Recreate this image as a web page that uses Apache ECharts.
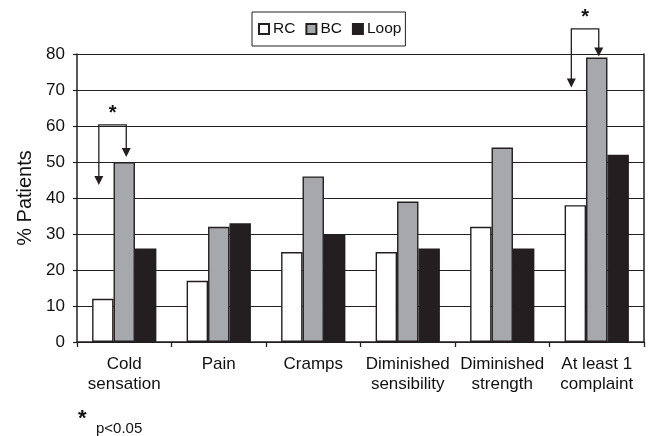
<!DOCTYPE html>
<html>
<head>
<meta charset="utf-8">
<script src="https://cdn.jsdelivr.net/npm/echarts@6/dist/echarts.min.js"></script>
<style>
  html, body { margin: 0; padding: 0; background: #fff; }
  #chart { width: 648px; height: 436px; }
</style>
</head>
<body>
<div id="chart"></div>
<script>
// categories and values
const categories = ['Cold\nsensation', 'Pain', 'Cramps', 'Diminished\nsensibility', 'Diminished\nstrength', 'At least 1\ncomplaint']
const rcValues = [12, 17, 25, 25, 32, 38]
const bcValues = [50, 32, 46, 39, 54, 79]
const loopValues = [26, 33, 30, 26, 26, 52]
const yTicks = [0, 10, 20, 30, 40, 50, 60, 70, 80]

// significance brackets: category, bracket top, left arrow end, right arrow end (in % units)
const sigCats = [0, 5]
const sigTop = [60.3, 87]
const sigLeftEnd = [43.6, 70.7]
const sigRightEnd = [51.4, 79.3]

const ink = '#231f20'
const txt = '#111'
const font = 'Liberation Sans, Arial, sans-serif'
const catGap = 0.32

const chart = echarts.init(document.getElementById('chart'))

// draws the bracket with two arrows and the star
const renderSig = (params, api) => {
  const cat = api.value(0)
  const c = api.coord([cat, api.value(1)])
  const band = api.size([1, 0])[0]
  const barW = band * (1 - catGap) / 3
  const lx = c[0] - barW - 4
  const rx = c[0] + 2
  const ly = api.coord([cat, api.value(2)])[1]
  const ry = api.coord([cat, api.value(3)])[1]
  return {
    type: 'group',
    children: [
      {
        type: 'polyline',
        shape: { points: [[lx, ly - 8], [lx, c[1]], [rx, c[1]], [rx, ry - 8]] },
        style: { stroke: ink, lineWidth: 1.3, fill: null }
      },
      {
        type: 'polygon',
        shape: { points: [[lx - 4.5, ly - 9], [lx + 4.5, ly - 9], [lx, ly]] },
        style: { fill: ink }
      },
      {
        type: 'polygon',
        shape: { points: [[rx - 4.5, ry - 9], [rx + 4.5, ry - 9], [rx, ry]] },
        style: { fill: ink }
      },
      {
        type: 'text',
        style: {
          text: '*', x: (lx + rx) / 2, y: c[1] - 11,
          fill: txt, font: 'bold 20px ' + font, align: 'center', verticalAlign: 'middle'
        }
      }
    ]
  }
}

const barStyle = (color) => ({ color: color, borderColor: ink, borderWidth: 1.4 })

const option = {
  backgroundColor: '#fff',
  animation: false,
  textStyle: { fontFamily: font, color: txt },
  legend: {
    top: 12,
    left: 252,
    data: ['RC', 'BC', 'Loop'],
    icon: 'rect',
    itemWidth: 10,
    itemHeight: 10,
    itemGap: 10,
    padding: [9, 4, 9, 6],
    borderColor: ink,
    borderWidth: 1,
    textStyle: { fontSize: 15.5, color: txt, fontFamily: font, padding: [0, 0, 0, -1] }
  },
  grid: { left: 77, right: 4, top: 54, bottom: 94 },
  xAxis: {
    type: 'category',
    data: categories,
    axisLine: { lineStyle: { color: ink, width: 1.5 } },
    axisTick: { show: true, length: 5, lineStyle: { color: ink, width: 1.3 } },
    axisLabel: { interval: 0, fontSize: 17, color: txt, lineHeight: 20, margin: 12, fontFamily: font }
  },
  yAxis: [
    {
      type: 'value',
      min: 0,
      max: 80,
      interval: 10,
      name: '% Patients',
      nameLocation: 'middle',
      nameGap: 42,
      nameTextStyle: { fontSize: 20, color: txt, fontFamily: font },
      axisLine: { show: true, lineStyle: { color: ink, width: 1.5 } },
      axisTick: { show: true, length: 4, lineStyle: { color: ink, width: 1.2 } },
      axisLabel: { fontSize: 17, color: txt, margin: 12, fontFamily: font,
        formatter: (v) => (yTicks.includes(v) ? String(v) : '') },
      splitLine: { lineStyle: { color: ink, width: 1.2 } }
    },
    {
      type: 'value',
      min: 0,
      max: 80,
      interval: 10,
      position: 'right',
      axisLine: { show: true, lineStyle: { color: ink, width: 1.5 } },
      axisTick: { show: false },
      axisLabel: { show: false },
      splitLine: { show: false }
    }
  ],
  series: [
    { name: 'RC', type: 'bar', data: rcValues, barGap: '0%', barCategoryGap: (catGap * 100) + '%', itemStyle: barStyle('#ffffff') },
    { name: 'BC', type: 'bar', data: bcValues, itemStyle: barStyle('#a7a8ab') },
    { name: 'Loop', type: 'bar', data: loopValues, itemStyle: barStyle('#231f20') },
    {
      type: 'custom',
      clip: false,
      silent: true,
      renderItem: renderSig,
      data: sigCats.map((c, i) => [c, sigTop[i], sigLeftEnd[i], sigRightEnd[i]]),
      z: 10
    }
  ],
  graphic: [
    { type: 'text', left: 78, top: 408, style: { text: '*', fill: txt, font: 'bold 22px ' + font } },
    { type: 'text', left: 96, top: 421, style: { text: 'p<0.05', fill: txt, font: '15px ' + font } }
  ]
}

chart.setOption(option)
</script>
</body>
</html>
